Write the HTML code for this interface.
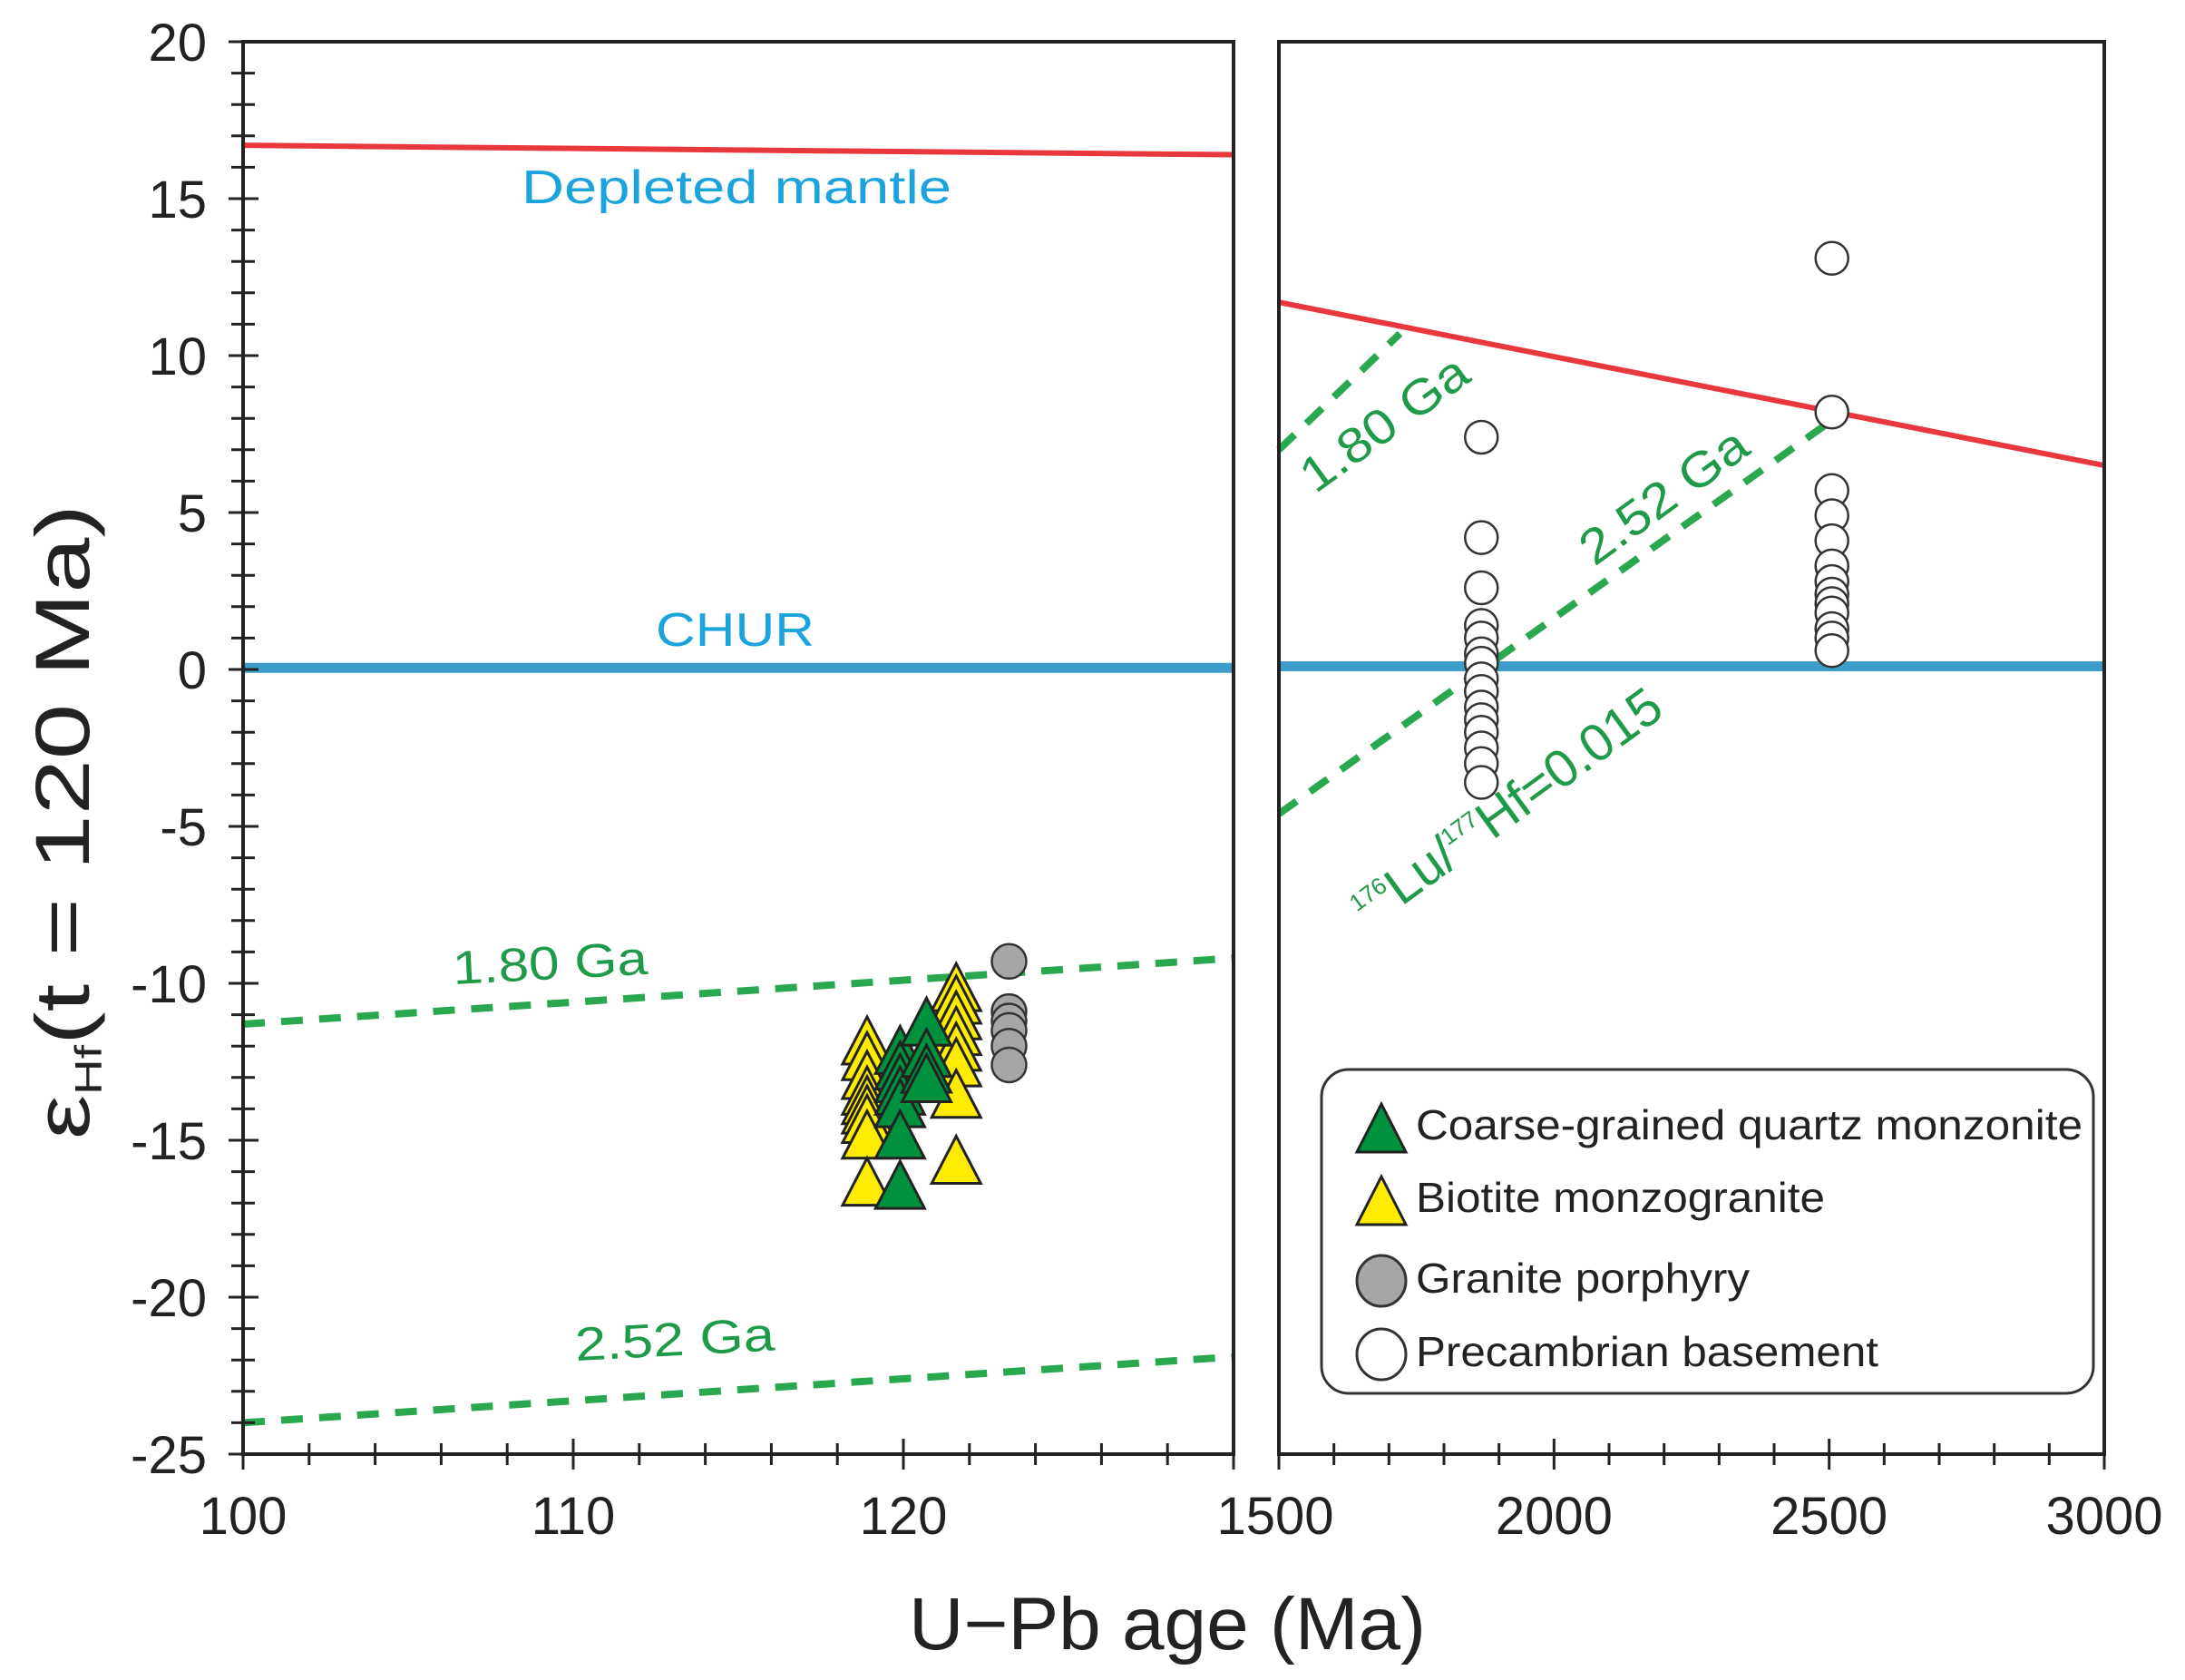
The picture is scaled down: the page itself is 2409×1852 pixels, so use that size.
<!DOCTYPE html>
<html><head><meta charset="utf-8"><style>
html,body{margin:0;padding:0;background:#fff;}
svg{display:block;font-family:"Liberation Sans",Arial,sans-serif;}
</style></head><body>
<svg id="chart" width="2409" height="1852" viewBox="0 0 2409 1852" xmlns="http://www.w3.org/2000/svg">
<g id="lines"></g>
<g id="marks"></g>
<g id="axes"></g>
<g id="labels">
  <text x="575" y="224" font-size="52" fill="#1aa3dc" textLength="474" lengthAdjust="spacingAndGlyphs">Depleted  mantle</text>
  <text x="723" y="712" font-size="52" fill="#1aa3dc" textLength="175" lengthAdjust="spacingAndGlyphs">CHUR</text>
  <text x="500" y="1085" font-size="52" fill="#1f9a48" transform="rotate(-3 500 1085)" textLength="215" lengthAdjust="spacingAndGlyphs">1.80 Ga</text>
  <text x="635" y="1500" font-size="52" fill="#1f9a48" transform="rotate(-3 635 1500)" textLength="220" lengthAdjust="spacingAndGlyphs">2.52 Ga</text>
  <text x="1450" y="545" font-size="54" fill="#1f9a48" transform="rotate(-36 1450 545)" textLength="215" lengthAdjust="spacingAndGlyphs">1.80 Ga</text>
  <text x="1758" y="625" font-size="54" fill="#1f9a48" transform="rotate(-36 1758 625)" textLength="215" lengthAdjust="spacingAndGlyphs">2.52 Ga</text>
  <text x="1510" y="1025" font-size="58" fill="#1f9a48" transform="rotate(-36 1510 1025)"><tspan font-size="26" dy="-24">176</tspan><tspan dy="24">Lu/</tspan><tspan font-size="26" dy="-24">177</tspan><tspan dy="24">Hf=0.015</tspan></text>
  <text transform="translate(98 906) rotate(-90)" text-anchor="middle" font-size="84" fill="#222" textLength="700" lengthAdjust="spacingAndGlyphs">ε<tspan font-size="42" dy="14">Hf</tspan><tspan dy="-14">(t = 120 Ma)</tspan></text>
  <text x="1287" y="1818" text-anchor="middle" font-size="82" fill="#222" textLength="570" lengthAdjust="spacingAndGlyphs">U−Pb  age (Ma)</text>
</g>
<g id="legend">
  <rect x="1457" y="1179" width="851" height="357" rx="30" fill="#fff" stroke="#333" stroke-width="3"/>
  <polygon points="1523,1217 1550,1270 1496,1270" fill="#00913f" stroke="#222" stroke-width="3"/>
  <text x="1561" y="1256" font-size="46" fill="#222" textLength="735" lengthAdjust="spacingAndGlyphs">Coarse-grained quartz monzonite</text>
  <polygon points="1523,1297 1550,1350 1496,1350" fill="#ffec00" stroke="#222" stroke-width="3"/>
  <text x="1561" y="1336" font-size="46" fill="#222" textLength="451" lengthAdjust="spacingAndGlyphs">Biotite monzogranite</text>
  <ellipse cx="1523" cy="1412" rx="27" ry="28" fill="#a6a6a6" stroke="#333" stroke-width="3"/>
  <text x="1561" y="1425" font-size="46" fill="#222" textLength="368" lengthAdjust="spacingAndGlyphs">Granite porphyry</text>
  <ellipse cx="1523" cy="1493" rx="27" ry="28" fill="#fff" stroke="#333" stroke-width="3"/>
  <text x="1561" y="1506" font-size="46" fill="#222" textLength="510" lengthAdjust="spacingAndGlyphs">Precambrian basement</text>
</g>
</svg>
<script>
const NS='http://www.w3.org/2000/svg';
// axis domains
const yDomain=[-25,20];
const leftDomain=[100,130];
const rightDomain=[1500,3000];
const yTickLabels=[20,15,10,5,0,-5,-10,-15,-20,-25];
const leftTickLabels=[100,110,120];
const rightTickLabels=[1500,2000,2500,3000];
// reference lines [x0,y0,x1,y1] in data units
const dmLeft=[100,16.7,130,16.4];
const dmRight=[1500,11.7,3000,6.5];
const churLeft=[100,0.05,130,0.05];
const churRight=[1500,0.1,3000,0.1];
const ga180Left=[100,-11.3,130,-9.2];
const ga252Left=[100,-24,130,-21.9];
const ga180Right=[1500,7.0,1720,10.7];
const ga252Right=[1500,-4.6,2510,8.0];
// samples
const cgqmAges=[119.9,119.9,119.9,119.9,119.9,119.9,119.9,120.7,120.7,120.7,120.7];
const cgqmEps=[-12.3,-12.8,-13.2,-13.6,-14.0,-15.0,-16.6,-11.4,-12.4,-12.9,-13.2];
const bmAges=[118.9,118.9,118.9,118.9,118.9,118.9,118.9,118.9,118.9,121.6,121.6,121.6,121.6,121.6,121.6,121.6,121.6];
const bmEps=[-12.0,-12.5,-13.1,-13.6,-13.9,-14.2,-14.5,-15.0,-16.5,-10.3,-10.7,-11.2,-11.7,-12.2,-12.7,-13.7,-15.8];
const gpAges=[123.2,123.2,123.2,123.2,123.2,123.2];
const gpEps=[-9.3,-10.9,-11.2,-11.5,-12.0,-12.6];
const pbAges=[1868,1868,1868,1868,1868,1868,1868,1868,1868,1868,1868,1868,1868,1868,1868,2505,2505,2505,2505,2505,2505,2505,2505,2505,2505,2505,2505,2505];
const pbEps=[7.4,4.2,2.6,1.4,1.0,0.5,0.2,-0.3,-0.7,-1.2,-1.6,-2.0,-2.5,-3.0,-3.6,13.1,8.2,5.7,4.9,4.1,3.3,2.8,2.4,2.1,1.8,1.3,1.0,0.6];

const P={top:46,bottom:1603,lx0:268,lx1:1360,rx0:1410,rx1:2320};
function yS(v){return P.bottom-(v-yDomain[0])/(yDomain[1]-yDomain[0])*(P.bottom-P.top);}
function xL(v){return P.lx0+(v-leftDomain[0])/(leftDomain[1]-leftDomain[0])*(P.lx1-P.lx0);}
function xR(v){return P.rx0+(v-rightDomain[0])/(rightDomain[1]-rightDomain[0])*(P.rx1-P.rx0);}
function mk(tag,attrs,parent){const e=document.createElementNS(NS,tag);for(const k in attrs)e.setAttribute(k,attrs[k]);parent.appendChild(e);return e;}
const gL=document.getElementById('lines'),gM=document.getElementById('marks'),gA=document.getElementById('axes');

function refLine(arr,xs,color,w,dash,name){
  const e=mk('line',{x1:xs(arr[0]),y1:yS(arr[1]),x2:xs(arr[2]),y2:yS(arr[3]),stroke:color,'stroke-width':w},gL);
  if(dash)e.setAttribute('stroke-dasharray',dash);
  
  
}
refLine(dmLeft,xL,'#e8383d',6,null,'depleted-mantle-line-left');
refLine(dmRight,xR,'#e8383d',6,null,'depleted-mantle-line-right');
refLine(churLeft,xL,'#3d9cc8',11,null,'chur-line-left');
refLine(churRight,xR,'#3d9cc8',11,null,'chur-line-right');
refLine(ga180Left,xL,'#2aa84f',8,'24 18','model-age-180ga-left');
refLine(ga252Left,xL,'#2aa84f',8,'24 18','model-age-252ga-left');
refLine(ga180Right,xR,'#2aa84f',8,'24 18','model-age-180ga-right');
refLine(ga252Right,xR,'#2aa84f',8,'24 18','model-age-252ga-right');

function tri(x,y,fill,name){
  const h=52,w=54;
  const e=mk('polygon',{points:`${x},${y-h*0.62} ${x+w/2},${y+h*0.38} ${x-w/2},${y+h*0.38}`,fill:fill,stroke:'#222','stroke-width':3},gM);
  
  
}
function circ(x,y,fill,r,name){
  const e=mk('circle',{cx:x,cy:y,r:r,fill:fill,stroke:'#333','stroke-width':2.5},gM);
  
  
}
bmAges.forEach((a,i)=>tri(xL(a),yS(bmEps[i]),'#ffec00','biotite-monzogranite-point'));
cgqmAges.forEach((a,i)=>tri(xL(a),yS(cgqmEps[i]),'#00913f','quartz-monzonite-point'));
gpAges.forEach((a,i)=>circ(xL(a),yS(gpEps[i]),'#a6a6a6',19,'granite-porphyry-point'));
pbAges.forEach((a,i)=>circ(xR(a),yS(pbEps[i]),'#fff',18,'precambrian-basement-point'));

function frame(x0,x1,name){
  const e=mk('rect',{x:x0,y:P.top,width:x1-x0,height:P.bottom-P.top,fill:'none',stroke:'#222','stroke-width':4},gA);
  
  
}
frame(P.lx0,P.lx1,'left-panel-frame');
frame(P.rx0,P.rx1,'right-panel-frame');
for(let v=yDomain[0];v<=yDomain[1];v++){
  const maj=v%5===0,y=yS(v);
  mk('line',{x1:P.lx0-(maj?16:13),x2:P.lx0+(maj?17:13),y1:y,y2:y,stroke:'#222','stroke-width':3},gA);
}
yTickLabels.forEach(v=>{
  const t=mk('text',{x:228,y:yS(v)+21,'text-anchor':'end','font-size':58,fill:'#222'},gA);
  t.textContent=v;
  
  
});
for(let v=leftDomain[0];v<=leftDomain[1];v+=2){
  const maj=v%10===0,x=xL(v);
  mk('line',{x1:x,x2:x,y1:P.bottom-(maj?17:12),y2:P.bottom+(maj?17:12),stroke:'#222','stroke-width':3},gA);
}
for(let v=rightDomain[0];v<=rightDomain[1];v+=100){
  const maj=v%500===0,x=xR(v);
  mk('line',{x1:x,x2:x,y1:P.bottom-(maj?17:12),y2:P.bottom+(maj?17:12),stroke:'#222','stroke-width':3},gA);
}
leftTickLabels.forEach(v=>{
  const t=mk('text',{x:xL(v),y:1691,'text-anchor':'middle','font-size':58,fill:'#222'},gA);
  t.textContent=v;
  
  
});
const t150=mk('text',{x:P.lx1+46,y:1691,'text-anchor':'middle','font-size':58,fill:'#222'},gA);
t150.textContent='1500';


rightTickLabels.slice(1).forEach(v=>{
  const t=mk('text',{x:xR(v),y:1691,'text-anchor':'middle','font-size':58,fill:'#222'},gA);
  t.textContent=v;
  
  
});
</script>
</body></html>
